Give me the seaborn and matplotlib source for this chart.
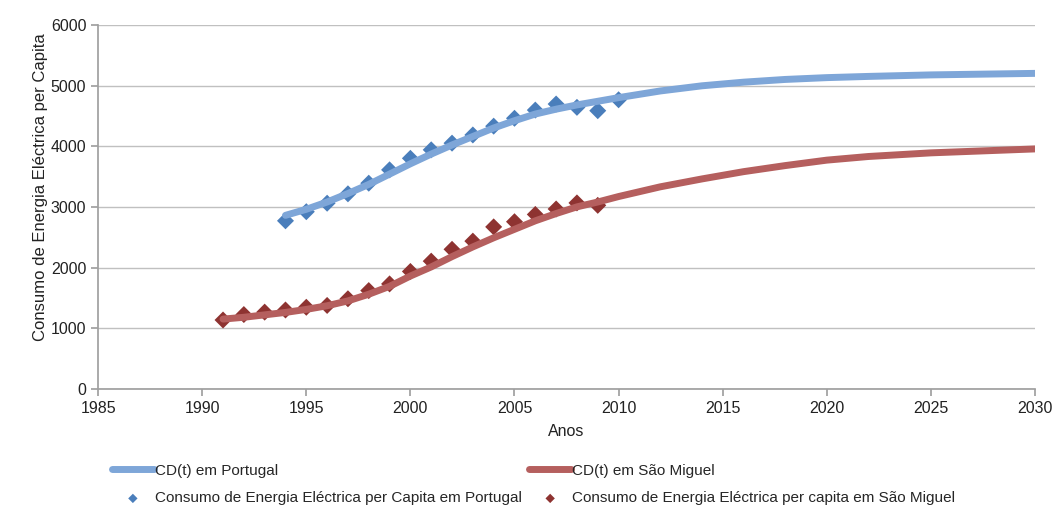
import numpy as np
import pandas as pd
import matplotlib.pyplot as plt
import seaborn as sns

# observed data
pt_years = list(range(1994, 2011))
pt_values = [2770, 2920, 3060, 3215, 3390, 3610, 3800, 3940, 4050, 4185,
             4330, 4460, 4595, 4695, 4640, 4585, 4765]
sm_years = list(range(1991, 2010))
sm_values = [1135, 1225, 1265, 1300, 1345, 1375, 1485, 1620, 1730, 1935,
             2105, 2300, 2435, 2670, 2755, 2875, 2965, 3065, 3025]

# fitted curves CD(t)
pt_curve_years = [1994, 1995, 1996, 1997, 1998, 1999, 2000, 2001, 2002, 2003,
                  2004, 2005, 2006, 2007, 2008, 2009, 2010, 2012, 2014, 2016,
                  2018, 2020, 2022, 2025, 2030]
pt_curve = [2860, 2960, 3080, 3220, 3370, 3540, 3710, 3870, 4020, 4160,
            4300, 4420, 4530, 4610, 4680, 4740, 4800, 4910, 4995, 5055,
            5100, 5130, 5150, 5175, 5200]
sm_curve_years = [1991, 1992, 1993, 1994, 1995, 1996, 1997, 1998, 1999, 2000,
                  2001, 2002, 2003, 2004, 2005, 2006, 2007, 2008, 2009, 2010,
                  2012, 2014, 2016, 2018, 2020, 2022, 2025, 2030]
sm_curve = [1150, 1180, 1220, 1260, 1310, 1370, 1450, 1560, 1690, 1860,
            2010, 2180, 2340, 2490, 2630, 2770, 2890, 3000, 3080, 3170,
            3330, 3460, 3580, 3680, 3770, 3830, 3890, 3955]

sns.set_theme(style="white")
plt.rcParams['font.family'] = ['Liberation Sans', 'DejaVu Sans']

fig, ax = plt.subplots(figsize=(10.55, 5.07), dpi=100)
fig.subplots_adjust(left=0.093, right=0.981, top=0.951, bottom=0.233)

sns.lineplot(x=pt_curve_years, y=pt_curve, ax=ax, color="#7EA6D8", linewidth=5,
             label="CD(t) em Portugal")
sns.scatterplot(x=pt_years, y=pt_values, ax=ax, marker="D", color="#4A7EBB", s=75,
                edgecolor="none", label="Consumo de Energia Eléctrica per Capita em Portugal")
sns.lineplot(x=sm_curve_years, y=sm_curve, ax=ax, color="#B55F5E", linewidth=5,
             label="CD(t) em São Miguel")
sns.scatterplot(x=sm_years, y=sm_values, ax=ax, marker="D", color="#8E3331", s=75,
                edgecolor="none", label="Consumo de Energia Eléctrica per capita em São Miguel")

ax.set_xlim(1985, 2030)
ax.set_ylim(0, 6000)
ax.set_xticks(range(1985, 2031, 5))
ax.set_yticks(range(0, 6001, 1000))
ax.yaxis.grid(True, color="#C0C0C0", linewidth=1)
ax.xaxis.grid(False)
for side in ["top", "right"]:
    ax.spines[side].set_visible(False)
for side in ["left", "bottom"]:
    ax.spines[side].set_color("#A0A0A0")
ax.tick_params(axis="both", direction="out", length=5, color="#A0A0A0",
               labelsize=11.5, labelcolor="#222222", left=True, bottom=True)
ax.set_xlabel("Anos", fontsize=11.5, color="#222222", labelpad=6)
ax.set_ylabel("Consumo de Energia Eléctrica per Capita", fontsize=12, color="#222222")
ax.yaxis.set_label_coords(-0.054, 0.555)

handles, labels = ax.get_legend_handles_labels()
ax.get_legend().remove()
fig.legend(handles, labels, ncol=2, loc="lower left", bbox_to_anchor=(0.093, -0.024),
           frameon=False, fontsize=11, handlelength=2.75, handletextpad=0.05,
           markerscale=0.55, columnspacing=0.5, labelspacing=0.9)

plt.savefig("out.png", dpi=100)
plt.close()
